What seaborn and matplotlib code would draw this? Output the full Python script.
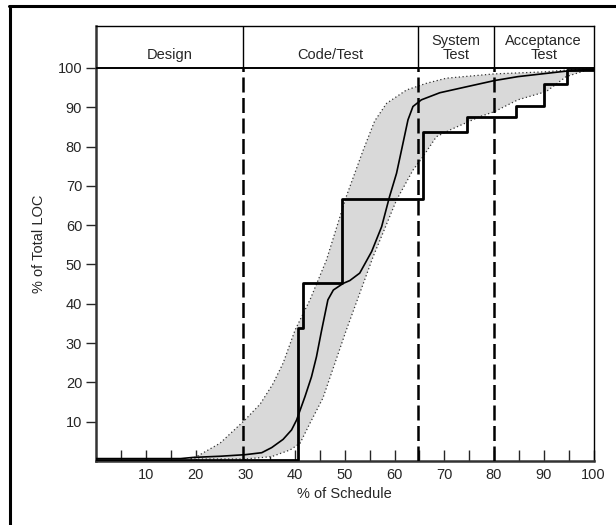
import matplotlib
matplotlib.use("Agg")
import matplotlib.pyplot as plt
import numpy as np
import pandas as pd
import seaborn as sns
from matplotlib.lines import Line2D

# Phase boundaries (% of schedule) and header labels
phase_edges = [0, 29.5, 64.8, 80, 100]
phase_labels = ["Design", "Code/Test", "System\nTest", "Acceptance\nTest"]

# Mean curve of % total LOC
mean_x = [0, 17, 19.5, 25, 30, 33.3, 35.3, 37.6, 39.3, 40.3, 42, 43.3, 44.3, 45.3,
          46.6, 47.7, 49.7, 51, 53, 55.4, 57.4, 59, 60.4, 61.4, 62.7, 63.7, 65.4,
          69.1, 74.4, 80.1, 84.8, 94.5, 100]
mean_y = [0.6, 0.6, 0.9, 1.2, 1.6, 2.1, 3.4, 5.5, 7.9, 10.4, 16.4, 21.4, 26.5, 33,
          41, 43.5, 45.2, 45.9, 47.8, 53.3, 59.6, 67.3, 73.2, 79.1, 86.8, 90.2, 91.9,
          93.7, 95.2, 96.8, 97.8, 99.2, 99.7]

# Upper / lower envelope of the band
upper_x = [19, 20.2, 24.9, 29.9, 33, 35.5, 37.6, 40, 43, 46.3, 50.3, 53.7, 56, 58.4,
           62.4, 66.4, 70.4, 80.1, 90, 100]
upper_y = [0.5, 1.1, 4.5, 10.4, 14.5, 19.5, 24.9, 33.3, 41, 51.1, 67.3, 79.1, 86.5, 91,
           94.4, 96.1, 97.4, 98.5, 99, 100]
lower_x = [19, 30, 35.3, 39, 41, 43, 45.6, 50.3, 55.7, 60.4, 63.7, 65.7, 68.4,
           71.1, 77.1, 80.1, 84.8, 90.5, 94.5, 100]
lower_y = [0.5, 0.5, 1.1, 2.8, 4.5, 9.6, 16, 33.3, 52, 66.4, 74, 77.4, 82.5,
           84.2, 87.6, 88.9, 91.9, 94, 97.8, 100]

# Actual project (step curve)
step_x = [0, 40.5, 41.5, 49.5, 65.7, 74.6, 84.5, 90.0, 94.7, 100]
step_y = [0.2, 33.9, 45.2, 66.7, 83.8, 87.5, 90.3, 95.9, 99.4, 99.7]

sns.set_style("ticks")
plt.rcParams["font.family"] = ["Liberation Sans", "DejaVu Sans"]
FS = 10.5

fig = plt.figure(figsize=(6.16, 5.25), dpi=100)
ax = fig.add_axes([0.156, 0.122, 0.8075, 0.8286])

# band between envelopes
ax.fill(np.concatenate([upper_x, lower_x[::-1]]),
        np.concatenate([upper_y, lower_y[::-1]]),
        color="#d9d9d9", lw=0, zorder=1)
ax.plot(upper_x, upper_y, color="#333333", lw=0.9, ls=(0, (1, 2)), zorder=2)
ax.plot(lower_x, lower_y, color="#333333", lw=0.9, ls=(0, (1, 2)), zorder=2)

mean_df = pd.DataFrame({"x": mean_x, "y": mean_y})
sns.lineplot(data=mean_df, x="x", y="y", ax=ax, color="black", lw=1.2,
             sort=False, zorder=4)
step_df = pd.DataFrame({"x": step_x, "y": step_y})
sns.lineplot(data=step_df, x="x", y="y", ax=ax, color="black", lw=2.0,
             drawstyle="steps-post", sort=False, zorder=5)

# phase dividers: dashed in plot, solid in header
for edge in phase_edges[1:-1]:
    ax.plot([edge, edge], [0, 100], color="black", lw=1.8,
            ls=(0, (6, 2.2)), zorder=3)
    ax.plot([edge, edge], [100, 110.7], color="black", lw=1.0, zorder=3)
ax.axhline(100, color="black", lw=1.4, zorder=6)

for lo, hi, lab in zip(phase_edges[:-1], phase_edges[1:], phase_labels):
    yy = 103.4 if "\n" not in lab else 105.2
    ax.text((lo + hi) / 2, yy, lab, ha="center", va="center", fontsize=FS,
            linespacing=1.0)

ax.set_xlim(0, 100)
ax.set_ylim(0, 110.7)
ax.set_xticks(np.arange(10, 101, 10))
ax.set_xticks(np.arange(5, 100, 10), minor=True)
ax.set_yticks(np.arange(10, 101, 10))
ax.tick_params(axis="x", direction="in", length=8, width=1.0, labelsize=FS,
               pad=5)
ax.tick_params(axis="x", which="minor", direction="in", length=8, width=1.0)
ax.tick_params(axis="y", direction="out", length=7, width=1.0, labelsize=FS,
               pad=3)
ax.set_xlabel("% of Schedule", fontsize=FS, labelpad=4)
ax.set_ylabel("% of Total LOC", fontsize=FS, labelpad=8)
for side in ["left", "bottom"]:
    ax.spines[side].set_linewidth(1.8)
    ax.spines[side].set_color("#333333")
for side in ["top", "right"]:
    ax.spines[side].set_linewidth(1.0)
    ax.spines[side].set_color("black")
    ax.spines[side].set_visible(True)

# outer frame (top and left only)
fig.add_artist(Line2D([9 / 616, 1.0], [1 - 5.7 / 525, 1 - 5.7 / 525],
                      transform=fig.transFigure, color="black", lw=2.2))
fig.add_artist(Line2D([10 / 616, 10 / 616], [0, 1 - 8 / 525],
                      transform=fig.transFigure, color="black", lw=2.2))

fig.savefig("out.png", dpi=100)
